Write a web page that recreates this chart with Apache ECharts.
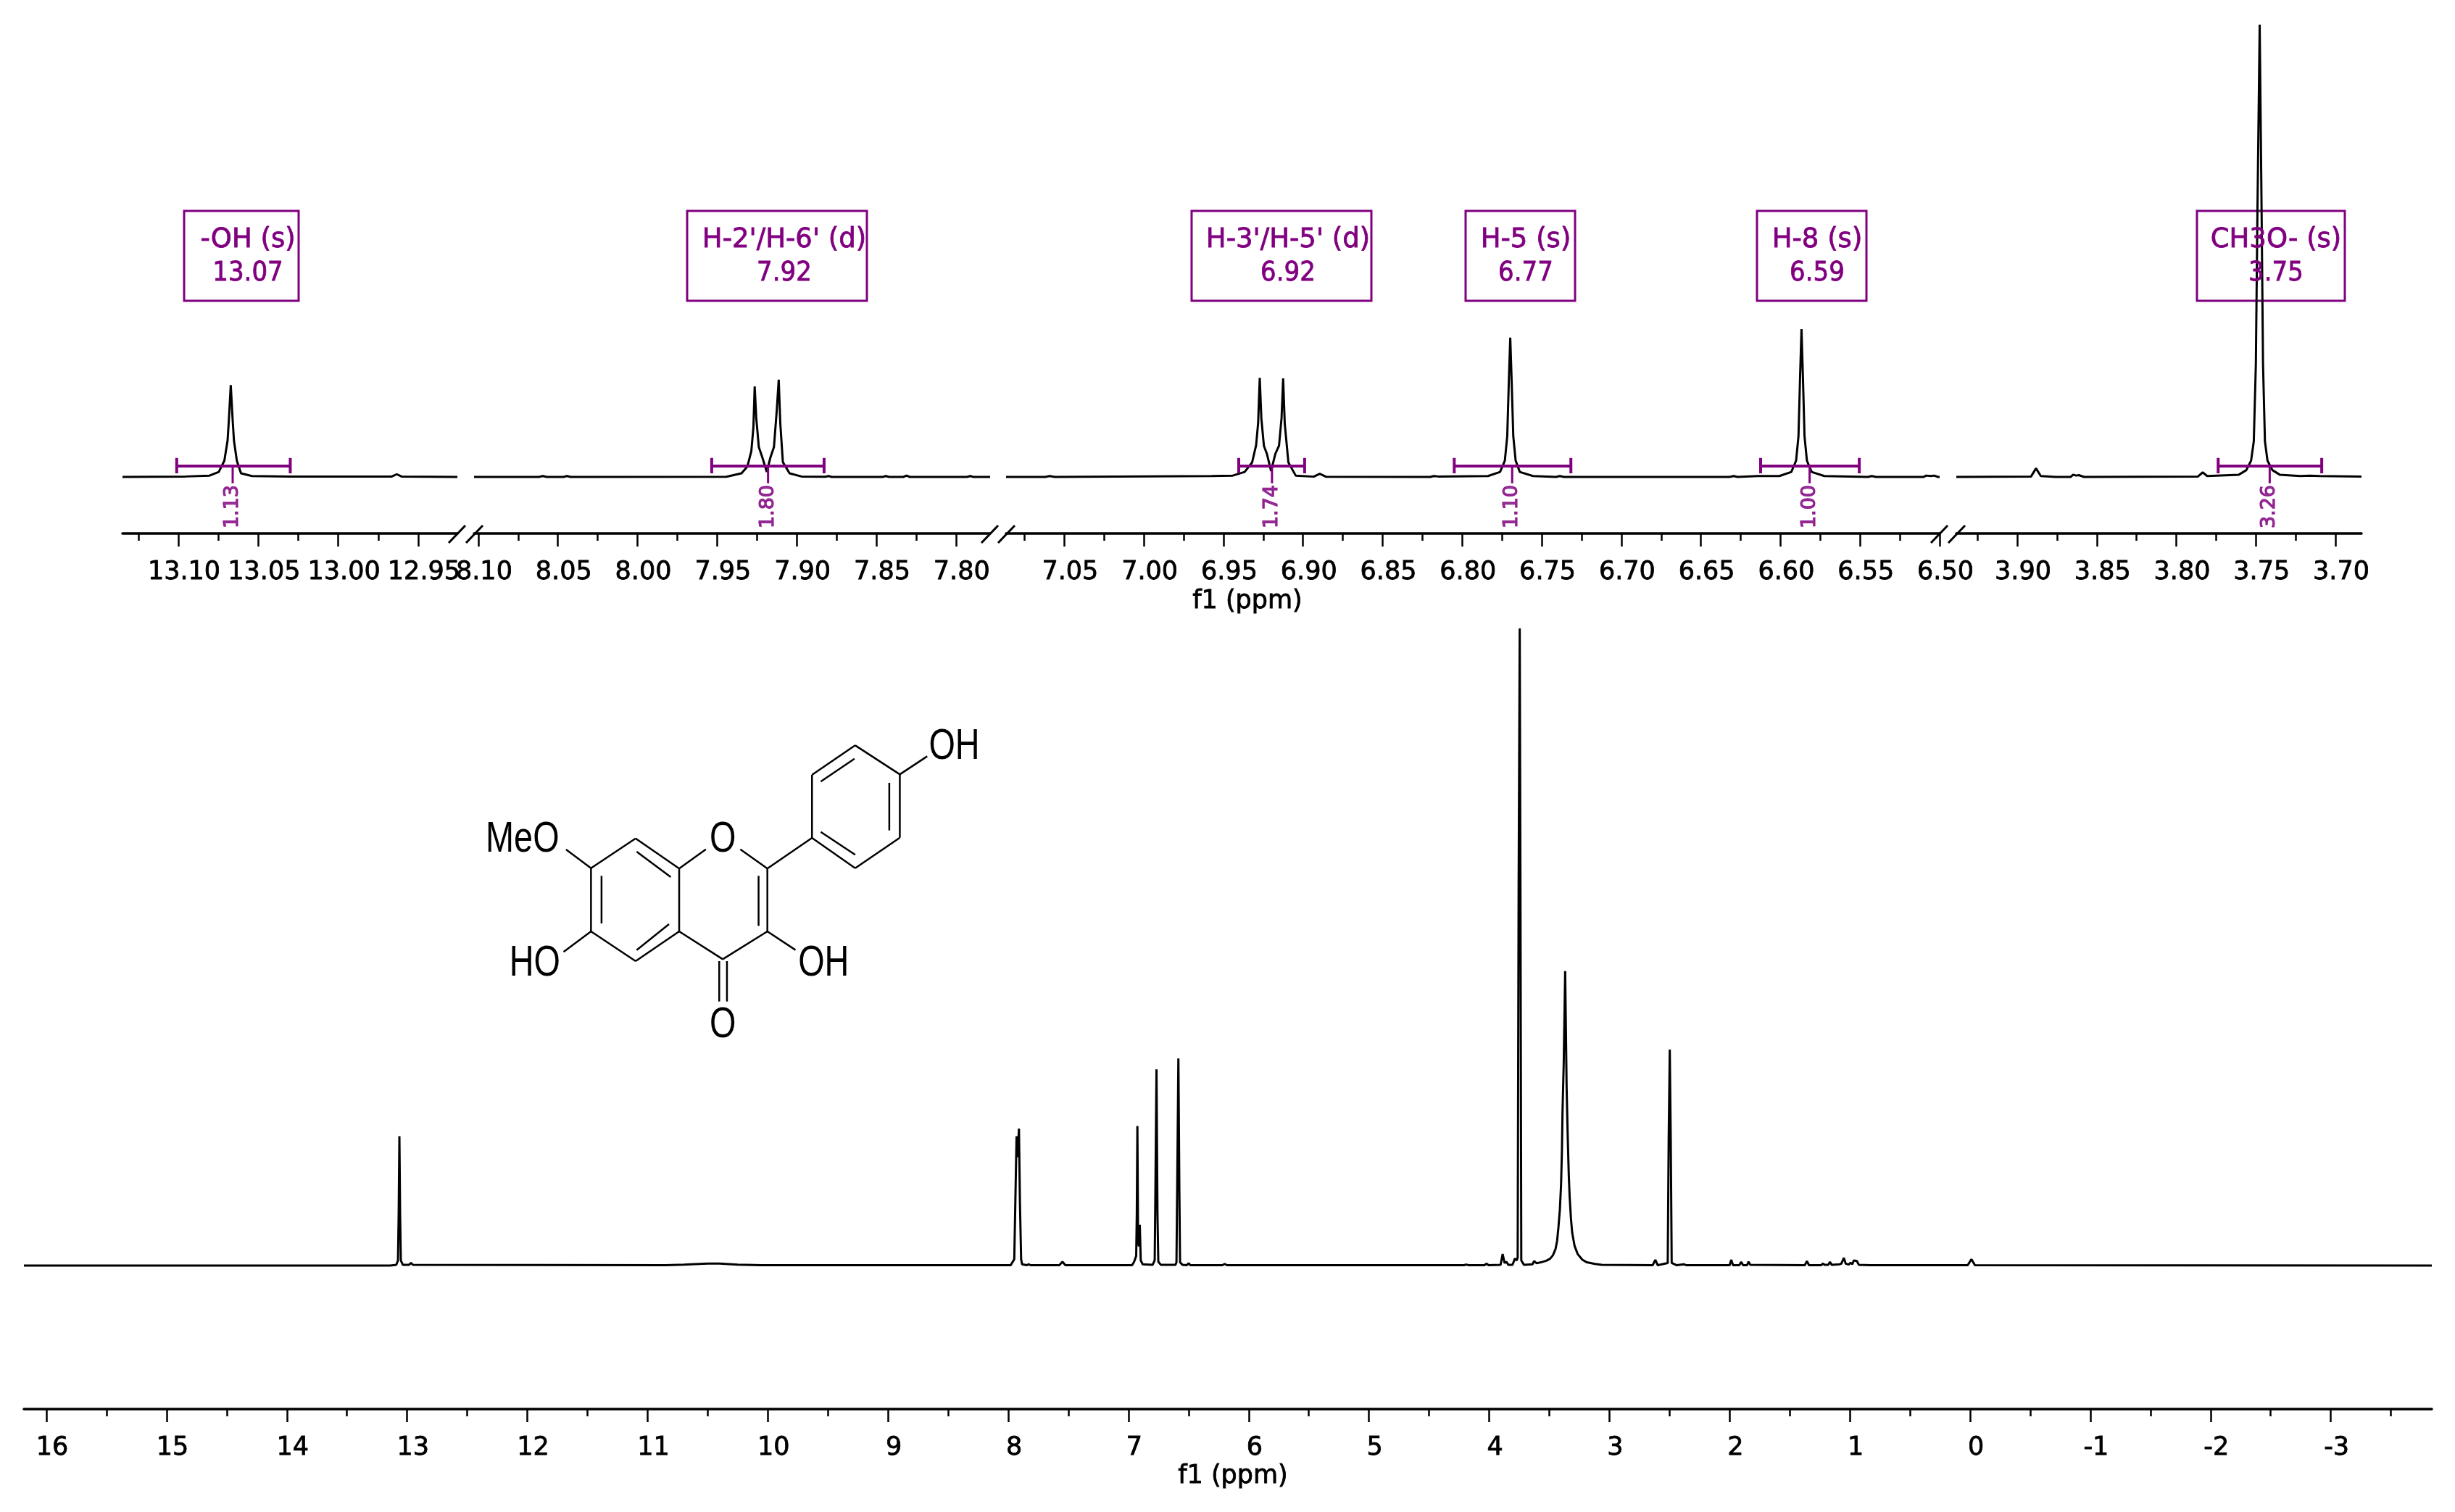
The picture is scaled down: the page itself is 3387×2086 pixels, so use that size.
<!DOCTYPE html>
<html>
<head>
<meta charset="utf-8">
<title>1H NMR</title>
<style>
  html, body { margin: 0; padding: 0; background: #fff; }
  #chart { width: 3387px; height: 2086px; }
</style>
<script src="https://cdn.jsdelivr.net/npm/echarts@6/dist/echarts.min.js"></script>
</head>
<body>
<div id="chart"></div>
<script>
// [ppm, intensity], intensity 100 = CH3O top
const segA = [[13.1349,0],[13.0955,.1],[13.0805,.3],[13.0747,1.1],[13.0712,3.6],[13.0692,8],[13.0684,12.5],[13.0672,20.3],[13.066,12.5],[13.0652,8],[13.0634,3.6],[13.0608,.8],[13.054,.2],[13.03,.1],[12.9665,.1],[12.9634,.6],[12.9604,.1],[12.9255,0]];
const segB = [[8.1027,0],[8.062,0],[8.0595,.2],[8.057,0],[8.0465,0],[8.0443,.2],[8.042,0],[7.9442,.05],[7.9347,.8],[7.931,2.3],[7.9285,5.7],[7.9272,11],[7.9264,20],[7.9254,13],[7.9238,6.6],[7.9215,4.2],[7.9188,1.1],[7.9166,4.2],[7.9143,6.6],[7.9125,14.9],[7.9113,21.5],[7.9103,11.8],[7.9087,3.3],[7.9045,.8],[7.897,.1],[7.882,.05],[7.88,.2],[7.878,0],[7.846,0],[7.844,.2],[7.842,0],[7.833,0],[7.831,.3],[7.829,0],[7.793,0],[7.791,.2],[7.789,0],[7.7785,0]];
const segC = [[7.0866,0],[7.062,0],[7.0592,.2],[7.056,0],[6.9574,.2],[6.9442,.3],[6.9367,1.1],[6.932,3.2],[6.9295,7],[6.9282,12],[6.9272,21.9],[6.9262,13],[6.9246,6.9],[6.9227,5.1],[6.9201,1.3],[6.9174,5.1],[6.9151,6.9],[6.9135,13],[6.9125,21.8],[6.9115,11.8],[6.9092,3.2],[6.9046,.3],[6.8933,.06],[6.8895,.7],[6.8857,.06],[6.82,0],[6.8179,.2],[6.815,.1],[6.7838,.2],[6.7762,1.1],[6.7732,3.6],[6.7717,9],[6.7707,21],[6.7698,30.8],[6.7689,21],[6.7679,9],[6.7664,3.6],[6.7638,1.1],[6.7555,.2],[6.741,0],[6.7387,.2],[6.736,0],[6.632,0],[6.6294,.2],[6.627,0],[6.6143,.2],[6.6007,.2],[6.5932,1.1],[6.5902,3.6],[6.5887,9],[6.5877,22],[6.5868,32.7],[6.5859,22],[6.5849,9],[6.5834,3.6],[6.5804,1.1],[6.5725,.2],[6.545,0],[6.5427,.2],[6.54,0],[6.51,0],[6.5085,.3],[6.5055,.2],[6.5035,.3],[6.501,0],[6.5,0]];
const segD = [[3.9383,0],[3.8913,.1],[3.8882,1.9],[3.8852,.2],[3.876,0],[3.8665,0],[3.8648,.5],[3.863,.3],[3.8613,.4],[3.858,0],[3.7864,.1],[3.7834,1],[3.7806,.2],[3.7607,.5],[3.756,1.5],[3.753,3.6],[3.7513,7.9],[3.75,25],[3.749,59],[3.7476,100],[3.7464,59],[3.7455,25],[3.7443,7.9],[3.7427,3.6],[3.7396,1.5],[3.735,.5],[3.722,.2],[3.716,.3],[3.71,.2],[3.6836,.1]];
const lowerSpectrum = [[16.187,0],[13.14,0],[13.09,.1],[13.076,.8],[13.07,8],[13.064,20.3],[13.058,8],[13.052,.8],[13.035,.1],[12.985,.1],[12.968,.4],[12.95,.1],[10.85,.05],[10.7,.15],[10.5,.3],[10.4,.3],[10.25,.15],[10.05,.05],[7.98,.05],[7.95,1],[7.941,10],[7.931,20.3],[7.923,17],[7.911,21.5],[7.903,10],[7.893,1],[7.885,.2],[7.845,.05],[7.831,.2],[7.815,.05],[7.575,.05],[7.549,.6],[7.525,.05],[6.97,.05],[6.953,.6],[6.936,1.5],[6.931,8],[6.926,21.9],[6.92,4],[6.914,3],[6.906,6.4],[6.898,.8],[6.882,.2],[6.8,.1],[6.782,.8],[6.777,10],[6.767,30.8],[6.759,8],[6.752,.6],[6.73,.1],[6.61,.1],[6.601,.5],[6.595,12],[6.585,32.5],[6.577,12],[6.571,.5],[6.55,.1],[6.515,.05],[6.5,.35],[6.485,.05],[6.22,.05],[6.2,.25],[6.18,.05],[4.21,.05],[4.192,.15],[4.17,.05],[4.04,.05],[4.023,.3],[4.005,.05],[3.905,.1],[3.888,1.8],[3.872,.4],[3.857,.6],[3.84,.1],[3.806,.1],[3.786,1.1],[3.772,.8],[3.763,1.2],[3.755,60],[3.746,100],[3.74,60],[3.733,.8],[3.71,.1],[3.64,.2],[3.626,.7],[3.605,.35],[3.571,.5],[3.525,.75],[3.494,1.06],[3.47,1.6],[3.448,2.6],[3.435,3.9],[3.424,6],[3.412,8.8],[3.402,12.8],[3.395,18],[3.39,24.2],[3.38,31.8],[3.368,46.2],[3.356,28],[3.347,20.4],[3.338,14.2],[3.331,10.9],[3.32,7.4],[3.31,5.2],[3.29,3.1],[3.264,1.8],[3.225,.9],[3.187,.5],[3.12,.25],[3.064,.1],[2.64,.05],[2.618,.9],[2.598,.05],[2.515,.4],[2.507,20],[2.498,33.9],[2.49,20],[2.482,.4],[2.44,.05],[2.381,.2],[2.36,.05],[2.14,.05],[2.0,.05],[1.987,.9],[1.972,.05],[1.92,.05],[1.904,.55],[1.888,.05],[1.855,.05],[1.843,.6],[1.828,.1],[1.375,.05],[1.357,.7],[1.34,.05],[1.24,.05],[1.225,.3],[1.21,.1],[1.18,.1],[1.166,.55],[1.15,.1],[1.085,.2],[1.071,.3],[1.05,1.2],[1.035,.3],[1.01,.15],[.994,.45],[.98,.2],[.967,.8],[.942,.7],[.925,.1],[.83,.05],[.02,.05],[-.011,1],[-.04,.05],[-3.84,0]];

// 各段坐标范围
const segExtents = [[13.1349,12.9255],[8.1027,7.7785],[7.0866,6.5],[3.9383,3.6836]];
const segMajors = [
  [13.10,13.05,13.00,12.95],
  [8.10,8.05,8.00,7.95,7.90,7.85,7.80],
  [7.05,7.00,6.95,6.90,6.85,6.80,6.75,6.70,6.65,6.60,6.55,6.50],
  [3.90,3.85,3.80,3.75,3.70]
];
const segMinors = [
  [13.125,13.075,13.025,12.975],
  [8.075,8.025,7.975,7.925,7.875,7.825],
  [7.075,7.025,6.975,6.925,6.875,6.825,6.775,6.725,6.675,6.625,6.575,6.525],
  [3.925,3.875,3.825,3.775,3.725]
];
const lowerMajors = [16,15,14,13,12,11,10,9,8,7,6,5,4,3,2,1,0,-1,-2,-3];
const lowerMinors = [15.5,14.5,13.5,12.5,11.5,10.5,9.5,8.5,7.5,6.5,5.5,4.5,3.5,2.5,1.5,.5,-.5,-1.5,-2.5,-3.5];

// from, to, stem, label
const integralSeg = [0,1,2,2,2,3];
const integralRanges = [[13.101,13.03],[7.9534,7.8828],[6.9404,6.899],[6.805,6.7317],[6.6125,6.5505],[3.7737,3.7086]];
const integralStems = [13.066,7.918,6.9195,6.7686,6.5817,3.7413];
const integralLabels = ['1.13','1.80','1.74','1.10','1.00','3.26'];

const peakNames = ['-OH (s)',"H-2'/H-6' (d)","H-3'/H-5' (d)",'H-5 (s)','H-8 (s)','CH3O- (s)'];
const peakShifts = ['13.07','7.92','6.92','6.77','6.59','3.75'];

const PURPLE = '#800080';
const FONT = '"DejaVu Sans", Verdana, sans-serif';

// grid pixel layout
const segBoxes = [[169,631],[654,1366],[1388,2676],[2699,3258]];
const boxRects = [[254,412],[948,1196],[1644,1892],[2022,2173],[2424,2575],[3031,3235]];
const boxTextX = [342,1082,1777,2105,2507,3140];
const breakMarks = [[619,643],[1354,1377],[2664,2688]];

const grids = [], xAxes = [], yAxes = [], series = [];

function addPanel(left, right, top, bottom, extent, yMin, majors, minors, digits, data) {
  const idx = grids.length;
  grids.push({ left: left, top: top, width: right - left, height: bottom - top, outerBoundsMode: 'none', containLabel: false });
  xAxes.push({
    type: 'value', gridIndex: idx, inverse: true, position: 'bottom',
    min: extent[1], max: extent[0], splitLine: { show: false },
    axisLine: { show: true, onZero: false, lineStyle: { color: '#000', width: 3.5 } },
    axisTick: { show: true, length: 18, customValues: majors, lineStyle: { color: '#000', width: 2.5 } },
    minorTick: { show: false },
    axisLabel: {
      show: true, customValues: majors, margin: 36, color: '#000', fontFamily: FONT, fontSize: 35,
      textBorderColor: '#000', textBorderWidth: .8,
      padding: [0, 0, 0, 16], hideOverlap: false,
      formatter: function (v) { return Number(v).toFixed(digits); }
    }
  });
  xAxes.push({
    type: 'value', gridIndex: idx, inverse: true, position: 'bottom',
    min: extent[1], max: extent[0], splitLine: { show: false },
    axisLine: { show: false, onZero: false },
    axisTick: { show: true, length: 10, customValues: minors, lineStyle: { color: '#000', width: 2.5 } },
    axisLabel: { show: false }
  });
  yAxes.push({ type: 'value', gridIndex: idx, min: yMin, max: 100, show: false });
  series.push({
    type: 'line', xAxisIndex: idx * 2, yAxisIndex: idx, data: data, showSymbol: false, silent: true,
    animation: false, clip: false, z: 3, lineStyle: { color: '#000', width: 3 }
  });
  return idx;
}

const segData = [segA, segB, segC, segD];
segData.forEach(function (d, i) {
  addPanel(segBoxes[i][0], segBoxes[i][1], 34, 736, segExtents[i], -12.5, segMajors[i], segMinors[i], 2, d);
});
addPanel(33, 3355, 867, 1944, [16.187, -3.84], -22.53, lowerMajors, lowerMinors, 0, lowerSpectrum);

// 积分线
integralRanges.forEach(function (r, i) {
  const p = integralSeg[i];
  const base = { type: 'line', xAxisIndex: p * 2, yAxisIndex: p, showSymbol: false, silent: true, animation: false, z: 4 };
  series.push(Object.assign({}, base, {
    data: [[r[0], .8], [r[0], 4.2], [r[0], 2.4], [r[1], 2.4], [r[1], 4.2], [r[1], .8]],
    lineStyle: { color: PURPLE, width: 4 }
  }));
  series.push(Object.assign({}, base, {
    data: [[integralStems[i], 2.4], [integralStems[i], -1.4]],
    lineStyle: { color: PURPLE, width: 3 }
  }));
  series.push({
    type: 'scatter', xAxisIndex: p * 2, yAxisIndex: p, silent: true, animation: false, z: 4,
    symbolSize: 1, itemStyle: { color: 'transparent' },
    data: [[integralStems[i], -6.1]],
    label: {
      show: true, position: 'inside', rotate: 90, offset: [-3, 0], color: PURPLE,
      textBorderColor: PURPLE, textBorderWidth: 1.2,
      fontFamily: FONT, fontSize: 27, formatter: integralLabels[i]
    }
  });
});

const graphic = [];

function addText(text, x, y, size, color, scaleX, family, weight) {
  graphic.push({
    type: 'text', x: x, y: y, scaleX: scaleX || 1, z: 5, silent: true,
    style: {
      text: text, fill: color, font: size + 'px ' + (family || FONT),
      stroke: color, lineWidth: weight === undefined ? .8 : weight,
      textAlign: 'center', textVerticalAlign: 'middle'
    }
  });
}

function addSegment(x1, y1, x2, y2, color, width) {
  graphic.push({
    type: 'line', z: 5, silent: true,
    shape: { x1: x1, y1: y1, x2: x2, y2: y2 },
    style: { stroke: color, lineWidth: width }
  });
}

// 标注框
boxRects.forEach(function (b, i) {
  graphic.push({
    type: 'rect', z: 2, silent: true,
    shape: { x: b[0], y: 291, width: b[1] - b[0], height: 124 },
    style: { fill: null, stroke: PURPLE, lineWidth: 3 }
  });
  addText(peakNames[i], boxTextX[i], 331, 37, PURPLE);
  addText(peakShifts[i], boxTextX[i], 377, 37, PURPLE, .92);
});

// axis breaks
breakMarks.forEach(function (m) {
  addSegment(m[0], 749, m[0] + 23, 725, '#000', 3);
  addSegment(m[1], 749, m[1] + 23, 725, '#000', 3);
});

addText('f1 (ppm)', 1721, 830, 35, '#000');
addText('f1 (ppm)', 1701, 2037, 35, '#000');

// 结构式 (sketch units, mapped below)
const molBonds = [
  [403,683,530,560],[530,560,654,685],[533,615,630,720],[654,685,654,945],[654,945,530,1068],[625,915,533,1022],
  [530,1068,403,945],[403,945,403,683],[433,715,433,912],[654,685,730,605],[828,605,905,685],[905,685,905,945],
  [880,715,880,922],[905,945,778,1060],[778,1060,654,945],[768,1068,768,1235],[790,1068,790,1235],[905,945,985,1022],
  [905,685,1032,558],[1032,558,1032,297],[1032,297,1155,175],[1057,325,1153,230],[1155,175,1282,295],[1282,295,1282,557],
  [1252,330,1252,527],[1282,557,1155,683],[1155,683,1032,558],[1155,628,1057,533],[1282,295,1360,220],[403,683,332,606],[403,945,325,1030]
];
const molLabels = [['O',778,553],['O',778,1322],['OH',1437,168],['MeO',208,553],['HO',243,1066],['OH',1065,1066]];
function molX(v) { return 620 + v / 2.063; }
function molY(v) { return 970 + v / 3; }
molBonds.forEach(function (b) {
  addSegment(molX(b[0]), molY(b[1]), molX(b[2]), molY(b[3]), '#000', 2.5);
});
molLabels.forEach(function (l) {
  addText(l[0], molX(l[1]), molY(l[2]) + 4, 60, '#000', .78, '"Liberation Sans", Arial, sans-serif', 0);
});

const chart = echarts.init(document.getElementById('chart'), null, { renderer: 'canvas' });
chart.setOption({
  backgroundColor: '#fff',
  animation: false,
  tooltip: { show: false },
  legend: { show: false },
  grid: grids,
  xAxis: xAxes,
  yAxis: yAxes,
  series: series,
  graphic: graphic
});
</script>
</body>
</html>
